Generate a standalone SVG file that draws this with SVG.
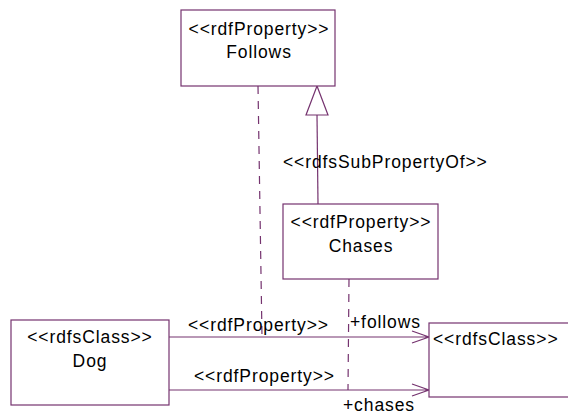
<svg xmlns="http://www.w3.org/2000/svg" width="568" height="414" viewBox="0 0 568 414">
<style>
.box{fill:#fff;stroke:#75336f;stroke-width:1.2}
.ln{fill:none;stroke:#75336f;stroke-width:1.2}
.dash{fill:none;stroke:#75336f;stroke-width:1.2;stroke-dasharray:8 7}
text{font-family:"Liberation Sans",Arial,sans-serif;font-size:17.5px;fill:#000;letter-spacing:0.9px}
.c{text-anchor:middle}
</style>
<rect width="568" height="414" fill="#fff"/>
<g id="connectors">
<path class="dash" d="M258,86 L262,337"/>
<path class="dash" d="M349,279 L348,390"/>
<path class="ln" d="M317,115 L318,204"/>
<path class="ln" d="M317,86 L306,115 L328,115 Z" fill="#fff"/>
<path class="ln" d="M169,337 L429,337 M412,331 L429,337 L412,343"/>
<path class="ln" d="M169,390 L429,390 M412,384 L429,390 L412,396"/>
<text x="283" y="168">&lt;&lt;rdfsSubPropertyOf&gt;&gt;</text>
<text x="188" y="331">&lt;&lt;rdfProperty&gt;&gt;</text>
<text x="194" y="382">&lt;&lt;rdfProperty&gt;&gt;</text>
<text x="350" y="328">+follows</text>
<text x="343" y="411">+chases</text>
</g>
<g id="follows">
<rect class="box" x="181" y="10" width="154" height="76"/>
<text class="c" x="259" y="35">&lt;&lt;rdfProperty&gt;&gt;</text>
<text class="c" x="259" y="58">Follows</text>
</g>
<g id="chases">
<rect class="box" x="283" y="204" width="155" height="75"/>
<text class="c" x="361" y="228">&lt;&lt;rdfProperty&gt;&gt;</text>
<text class="c" x="361" y="252">Chases</text>
</g>
<g id="dog">
<rect class="box" x="11" y="320" width="158" height="85"/>
<text class="c" x="90" y="343">&lt;&lt;rdfsClass&gt;&gt;</text>
<text class="c" x="90" y="367">Dog</text>
</g>
<g id="class">
<rect class="box" x="429" y="323" width="145" height="74"/>
<text x="433" y="345">&lt;&lt;rdfsClass&gt;&gt;</text>
</g>
</svg>
